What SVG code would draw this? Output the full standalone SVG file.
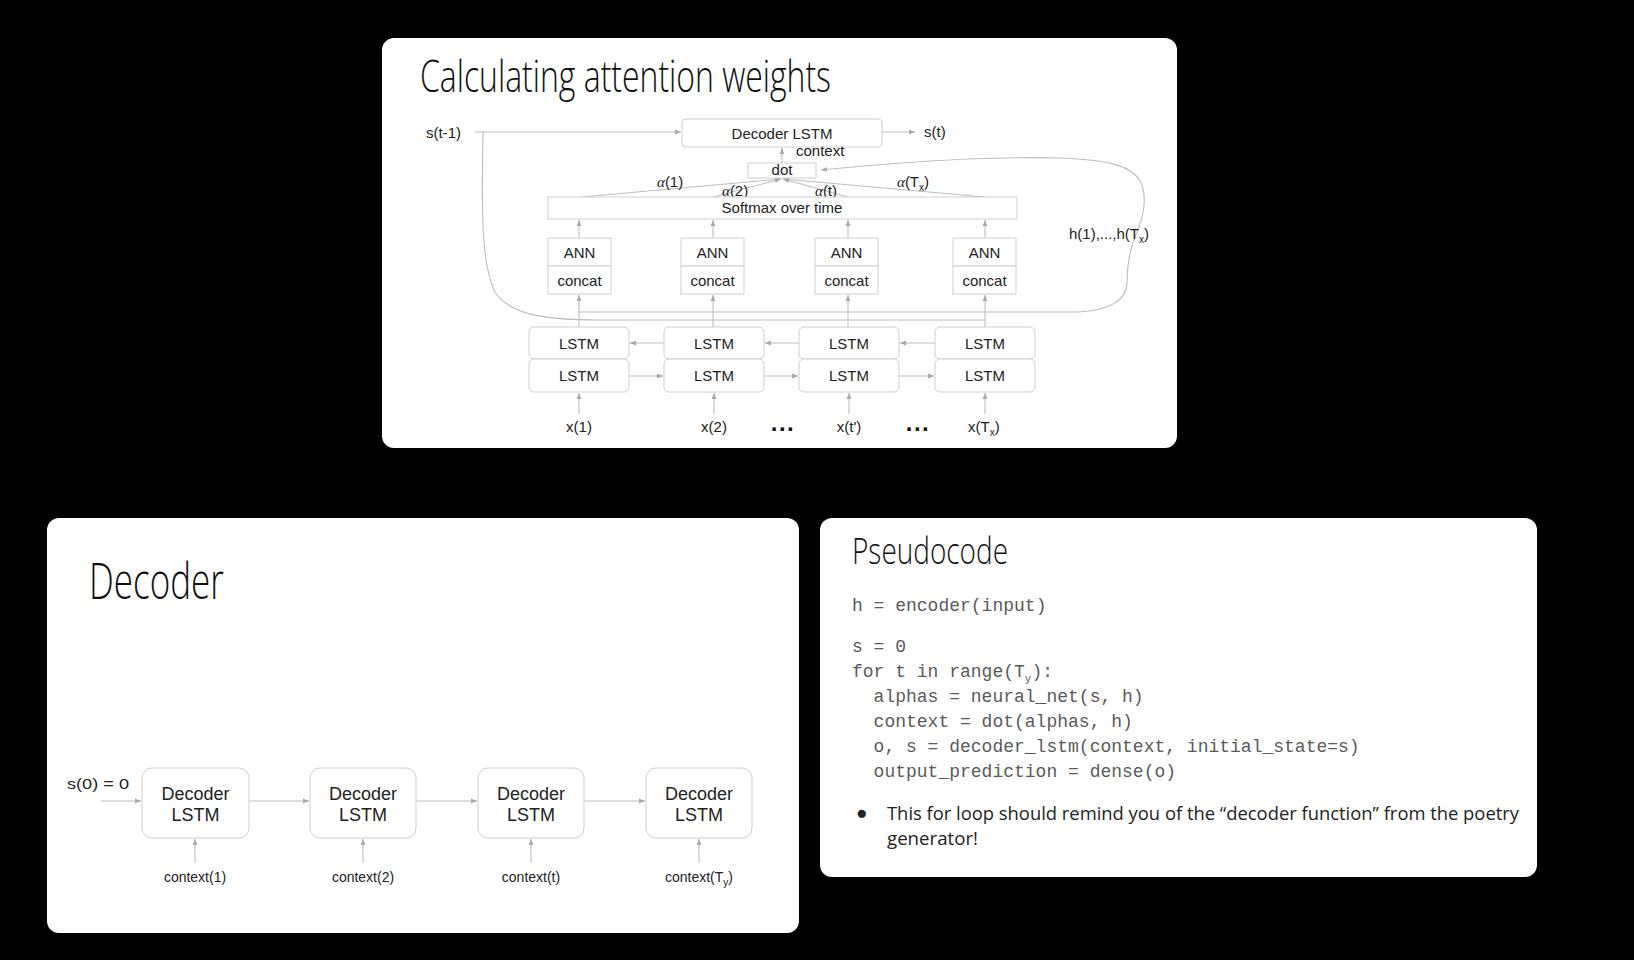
<svg xmlns="http://www.w3.org/2000/svg" width="1634" height="960" viewBox="0 0 1634 960">
<defs>
<marker id="ah" viewBox="0 0 10 10" refX="10" refY="5" markerWidth="6" markerHeight="6" markerUnits="userSpaceOnUse" orient="auto">
<path d="M0,1 L10,5 L0,9 z" fill="#aaa"/>
</marker>
</defs>
<style>
.panel{fill:#fff}
.box{fill:#fff;stroke:#cfcfcf;stroke-width:1}
.conn{fill:none;stroke:#bdbdbd;stroke-width:1.1}
.arr{marker-end:url(#ah)}
.lbl{font-family:"Liberation Sans",Arial,sans-serif;font-size:15px;fill:#222}
.mid{text-anchor:middle}
.title{font-family:"Open Sans","Liberation Sans",sans-serif;font-weight:300;fill:#111}
.code{font-family:"Liberation Mono","Courier New",monospace;font-size:18px;fill:#5a5a5a}
.body{font-family:"Open Sans","Liberation Sans",sans-serif;font-size:19px;fill:#222}
.al{font-family:"Liberation Serif",serif;font-style:italic}
.dec{font-family:"Liberation Sans",Arial,sans-serif;font-size:18px;fill:#222;text-anchor:middle}
.ctx{font-family:"Liberation Sans",Arial,sans-serif;font-size:14px;fill:#222;text-anchor:middle}
.dots{font-family:"Liberation Sans",Arial,sans-serif;font-size:24px;font-weight:bold;fill:#111;text-anchor:middle;letter-spacing:1.5px}
</style>
<rect x="0" y="0" width="1634" height="960" fill="#000"/>

<!-- Top panel -->
<g id="panel-attention">
<rect class="panel" x="382" y="38" width="795" height="410" rx="12"/>
<text class="title" x="420" y="92" font-size="45" textLength="411" lengthAdjust="spacingAndGlyphs">Calculating attention weights</text>
</g>

<g id="connectors-attention">
<path class="conn arr" d="M475,132 H681"/>
<path class="conn arr" d="M882,132 H915"/>
<path class="conn arr" d="M782,163 V148"/>
<path class="conn arr" d="M582,197 L781,179"/>
<path class="conn arr" d="M713,197 L781,179"/>
<path class="conn arr" d="M848,197 L783,179"/>
<path class="conn arr" d="M985,197 L783,179"/>
<path class="conn arr" d="M579,238 V220"/>
<path class="conn arr" d="M713,238 V220"/>
<path class="conn arr" d="M848,238 V220"/>
<path class="conn arr" d="M985,238 V220"/>
<path class="conn arr" d="M579,327 V295"/>
<path class="conn arr" d="M713,327 V295"/>
<path class="conn arr" d="M848,327 V295"/>
<path class="conn arr" d="M985,327 V295"/>
<path class="conn arr" d="M664,343 H630"/>
<path class="conn arr" d="M799,343 H765"/>
<path class="conn arr" d="M935,343 H900"/>
<path class="conn arr" d="M629,376 H663"/>
<path class="conn arr" d="M764,376 H798"/>
<path class="conn arr" d="M899,376 H934"/>
<path class="conn arr" d="M579,414 V393"/>
<path class="conn arr" d="M714,414 V393"/>
<path class="conn arr" d="M849,414 V393"/>
<path class="conn arr" d="M985,414 V393"/>
<path class="conn" d="M483,132 C482,200 480,262 495,292 C510,315 545,320 600,320 H985"/>
<path class="conn arr" d="M579,312 H1075 C1110,311 1127,300 1127,282 C1127,262 1130,248 1137,232 C1144,215 1147,200 1142,185 C1135,166 1110,160 1060,158 C980,156 900,162 821,170"/>
</g>

<g id="lbl-st1"><text class="lbl" x="426" y="138">s(t-1)</text></g>
<g id="lbl-st"><text class="lbl" x="924" y="137">s(t)</text></g>
<g id="node-decoder-lstm">
<rect class="box" x="682" y="119" width="200" height="28" rx="4"/>
<text class="lbl mid" x="782" y="139">Decoder LSTM</text>
</g>
<g id="lbl-context"><text class="lbl" x="796" y="156">context</text></g>
<g id="node-dot">
<rect class="box" x="748" y="163" width="68" height="15"/>
<text class="lbl mid" x="782" y="175">dot</text>
</g>
<g id="lbl-alphas">
<text class="lbl" x="657" y="187"><tspan class="al">α</tspan>(1)</text>
<text class="lbl" x="722" y="196"><tspan class="al">α</tspan>(2)</text>
<text class="lbl" x="815" y="196"><tspan class="al">α</tspan>(t)</text>
<text class="lbl" x="897" y="187"><tspan class="al">α</tspan>(T<tspan font-size="10" dy="4">x</tspan><tspan dy="-4">)</tspan></text>
</g>
<g id="node-softmax">
<rect class="box" x="548" y="197" width="469" height="22"/>
<text class="lbl mid" x="782" y="213">Softmax over time</text>
</g>
<g id="lbl-h"><text class="lbl" x="1069" y="239">h(1),...,h(T<tspan font-size="10" dy="4">x</tspan><tspan dy="-4">)</tspan></text></g>

<g id="node-ann-1">
<rect class="box" x="548" y="238" width="63" height="28"/>
<rect class="box" x="548" y="266" width="63" height="28"/>
<text class="lbl mid" x="579.5" y="258">ANN</text>
<text class="lbl mid" x="579.5" y="286">concat</text>
</g>
<g id="node-ann-2">
<rect class="box" x="681" y="238" width="63" height="28"/>
<rect class="box" x="681" y="266" width="63" height="28"/>
<text class="lbl mid" x="712.5" y="258">ANN</text>
<text class="lbl mid" x="712.5" y="286">concat</text>
</g>
<g id="node-ann-3">
<rect class="box" x="815" y="238" width="63" height="28"/>
<rect class="box" x="815" y="266" width="63" height="28"/>
<text class="lbl mid" x="846.5" y="258">ANN</text>
<text class="lbl mid" x="846.5" y="286">concat</text>
</g>
<g id="node-ann-4">
<rect class="box" x="953" y="238" width="63" height="28"/>
<rect class="box" x="953" y="266" width="63" height="28"/>
<text class="lbl mid" x="984.5" y="258">ANN</text>
<text class="lbl mid" x="984.5" y="286">concat</text>
</g>

<g id="node-lstm-1">
<rect class="box" x="529" y="327" width="100" height="32" rx="5"/>
<rect class="box" x="529" y="359" width="100" height="33" rx="5"/>
<text class="lbl mid" x="579" y="349">LSTM</text>
<text class="lbl mid" x="579" y="381">LSTM</text>
</g>
<g id="node-lstm-2">
<rect class="box" x="664" y="327" width="100" height="32" rx="5"/>
<rect class="box" x="664" y="359" width="100" height="33" rx="5"/>
<text class="lbl mid" x="714" y="349">LSTM</text>
<text class="lbl mid" x="714" y="381">LSTM</text>
</g>
<g id="node-lstm-3">
<rect class="box" x="799" y="327" width="100" height="32" rx="5"/>
<rect class="box" x="799" y="359" width="100" height="33" rx="5"/>
<text class="lbl mid" x="849" y="349">LSTM</text>
<text class="lbl mid" x="849" y="381">LSTM</text>
</g>
<g id="node-lstm-4">
<rect class="box" x="935" y="327" width="100" height="32" rx="5"/>
<rect class="box" x="935" y="359" width="100" height="33" rx="5"/>
<text class="lbl mid" x="985" y="349">LSTM</text>
<text class="lbl mid" x="985" y="381">LSTM</text>
</g>
<g id="lbl-inputs">
<text class="lbl mid" x="579" y="432">x(1)</text>
<text class="lbl mid" x="714" y="432">x(2)</text>
<text class="lbl mid" x="849" y="432">x(t')</text>
<text class="lbl" x="968" y="432">x(T<tspan font-size="10" dy="4">x</tspan><tspan dy="-4">)</tspan></text>
<text class="dots" x="783" y="431">...</text>
<text class="dots" x="918" y="431">...</text>
</g>

<!-- Decoder panel -->
<g id="panel-decoder">
<rect class="panel" x="47" y="518" width="752" height="415" rx="12"/>
<text class="title" x="89" y="599" font-size="50" textLength="135" lengthAdjust="spacingAndGlyphs">Decoder</text>
</g>
<g id="connectors-decoder">
<path class="conn arr" d="M101,801 H141"/>
<path class="conn arr" d="M249,801 H309"/>
<path class="conn arr" d="M416,801 H477"/>
<path class="conn arr" d="M584,801 H645"/>
<path class="conn arr" d="M195,863 V839"/>
<path class="conn arr" d="M363,863 V839"/>
<path class="conn arr" d="M531,863 V839"/>
<path class="conn arr" d="M699,863 V839"/>
</g>
<g id="lbl-s0"><text class="lbl" x="67" y="789" font-size="19" textLength="62" lengthAdjust="spacingAndGlyphs">s(0) = 0</text></g>
<g id="node-dec-1">
<rect class="box" x="142" y="768" width="107" height="70" rx="10"/>
<text class="dec" x="195.5" y="800">Decoder</text>
<text class="dec" x="195.5" y="821">LSTM</text>
</g>
<g id="node-dec-2">
<rect class="box" x="310" y="768" width="106" height="70" rx="10"/>
<text class="dec" x="363" y="800">Decoder</text>
<text class="dec" x="363" y="821">LSTM</text>
</g>
<g id="node-dec-3">
<rect class="box" x="478" y="768" width="106" height="70" rx="10"/>
<text class="dec" x="531" y="800">Decoder</text>
<text class="dec" x="531" y="821">LSTM</text>
</g>
<g id="node-dec-4">
<rect class="box" x="646" y="768" width="106" height="70" rx="10"/>
<text class="dec" x="699" y="800">Decoder</text>
<text class="dec" x="699" y="821">LSTM</text>
</g>
<g id="lbl-contexts">
<text class="ctx" x="195" y="882">context(1)</text>
<text class="ctx" x="363" y="882">context(2)</text>
<text class="ctx" x="531" y="882">context(t)</text>
<text class="ctx" x="699" y="882">context(T<tspan font-size="10" dy="4">y</tspan><tspan dy="-4">)</tspan></text>
</g>

<!-- Pseudocode panel -->
<g id="panel-pseudocode">
<rect class="panel" x="820" y="518" width="717" height="359" rx="12"/>
<text class="title" x="852" y="564" font-size="36" textLength="156" lengthAdjust="spacingAndGlyphs">Pseudocode</text>
<text class="code" x="852" y="611">h = encoder(input)</text>
<text class="code" x="852" y="652">s = 0</text>
<text class="code" x="852" y="677">for t in range(T<tspan font-size="11" dy="5">y</tspan><tspan dy="-5">):</tspan></text>
<text class="code" x="873.6" y="702">alphas = neural_net(s, h)</text>
<text class="code" x="873.6" y="727">context = dot(alphas, h)</text>
<text class="code" x="873.6" y="752">o, s = decoder_lstm(context, initial_state=s)</text>
<text class="code" x="873.6" y="777">output_prediction = dense(o)</text>
<text class="body" x="856" y="819" font-size="14">●</text>
<text class="body" x="887" y="820" textLength="632" lengthAdjust="spacingAndGlyphs">This for loop should remind you of the “decoder function” from the poetry</text>
<text class="body" x="887" y="845" textLength="91" lengthAdjust="spacingAndGlyphs">generator!</text>
</g>
</svg>
